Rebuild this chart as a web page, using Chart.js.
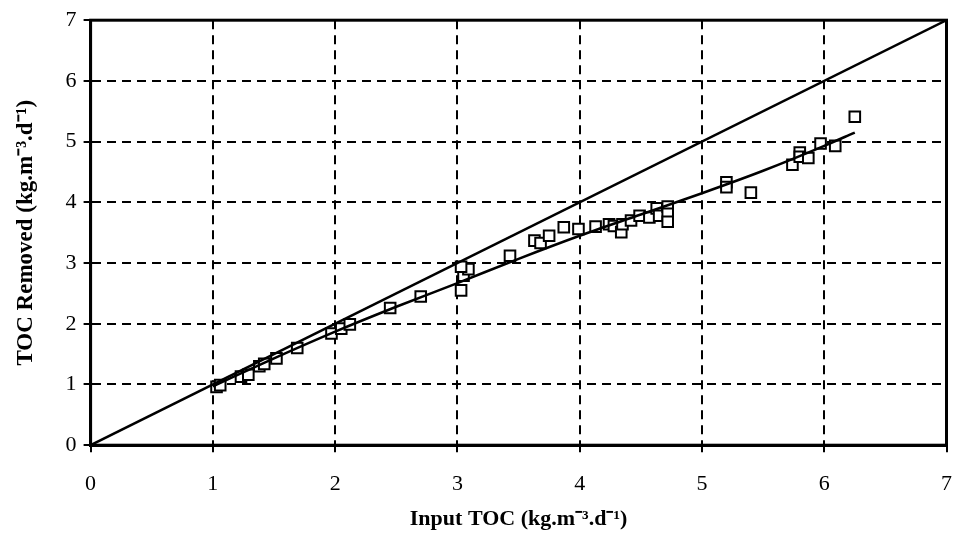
<!DOCTYPE html>
<html>
<head>
<meta charset="utf-8">
<script src="https://cdn.jsdelivr.net/npm/chart.js@4/dist/chart.umd.min.js"></script>
<style>
  html, body { margin: 0; padding: 0; background: #fff; overflow: hidden; }
  canvas { display: block; }
</style>
</head>
<body>
<canvas id="tocChart" width="956" height="537"></canvas>
<script>
// measured points
const inputToc = [
  1.03, 1.06, 1.23, 1.29, 1.38, 1.42, 1.52, 1.69, 1.97, 2.05, 2.12, 2.45,
  2.70, 3.03, 3.05, 3.09, 3.03, 3.43, 3.63, 3.68, 3.75, 3.87, 3.99, 4.13,
  4.24, 4.28, 4.34, 4.35, 4.42, 4.49, 4.57, 4.63, 4.65, 4.72, 4.72, 4.72,
  5.20, 5.20, 5.40, 5.74, 5.80, 5.80, 5.87, 5.97, 6.09, 6.25
];
const tocRemoved = [
  0.96, 0.99, 1.13, 1.16, 1.30, 1.34, 1.43, 1.60, 1.84, 1.92, 1.99, 2.26,
  2.45, 2.55, 2.79, 2.90, 2.94, 3.12, 3.37, 3.33, 3.45, 3.59, 3.56, 3.60,
  3.64, 3.61, 3.51, 3.64, 3.70, 3.78, 3.75, 3.90, 3.78, 3.93, 3.81, 3.68,
  4.33, 4.25, 4.16, 4.62, 4.82, 4.75, 4.73, 4.97, 4.93, 5.41
];

// fitted curve
const fitX = [1.0, 1.5, 2.0, 2.5, 3.0, 3.5, 4.0, 4.5, 5.0, 5.5, 6.0, 6.25];
const fitY = [0.97, 1.43, 1.87, 2.28, 2.67, 3.07, 3.45, 3.80, 4.15, 4.52, 4.93, 5.15];

// 1:1 line
const equalX = [0, 7];
const equalY = [0, 7];

const xTickValues = [0, 1, 2, 3, 4, 5, 6, 7];
const yTickValues = [0, 1, 2, 3, 4, 5, 6, 7];

const toPoints = (xs, ys) => xs.map((x, i) => ({ x: x, y: ys[i] }));

const serif = 'Liberation Serif, Times New Roman, serif';

const frame = {
  id: 'frame',
  afterDraw(chart) {
    const a = chart.chartArea;
    const ctx = chart.ctx;
    ctx.save();
    ctx.strokeStyle = '#000';
    ctx.lineWidth = 3;
    ctx.setLineDash([]);
    ctx.strokeRect(a.left, a.top, a.right - a.left, a.bottom - a.top);
    ctx.restore();
  },
};

const gridOpts = {
  color: '#000',
  lineWidth: 2,
  drawTicks: true,
  tickLength: 7,
  tickBorderDash: [],
  tickWidth: 2,
  tickColor: '#000',
};

const borderOpts = { color: '#000', width: 3, dash: [9, 6] };

new Chart(document.getElementById('tocChart'), {
  type: 'scatter',
  data: {
    datasets: [
      {
        label: '1:1',
        data: toPoints(equalX, equalY),
        showLine: true,
        borderColor: '#000',
        borderWidth: 2.5,
        pointRadius: 0,
      },
      {
        label: 'fit',
        data: toPoints(fitX, fitY),
        showLine: true,
        borderColor: '#000',
        borderWidth: 2.5,
        pointRadius: 0,
        cubicInterpolationMode: 'monotone',
      },
      {
        label: 'TOC',
        data: toPoints(inputToc, tocRemoved),
        pointStyle: 'rect',
        pointRadius: 7.5,
        pointBorderWidth: 2,
        pointBorderColor: '#000',
        pointBackgroundColor: '#fff',
      },
    ],
  },
  options: {
    responsive: false,
    animation: false,
    layout: { padding: { top: 14, left: 12, right: 0, bottom: 7 } },
    plugins: {
      legend: { display: false },
      tooltip: { enabled: false },
    },
    scales: {
      x: {
        type: 'linear',
        min: 0,
        max: 7,
        afterBuildTicks: (s) => { s.ticks = xTickValues.map((v) => ({ value: v })); },
        grid: gridOpts,
        border: borderOpts,
        // tall line box pushes the labels down without adding side padding
        ticks: { color: '#000', padding: 0, font: { family: serif, size: 22, lineHeight: 2.9 } },
        title: {
          display: true,
          text: 'Input TOC (kg.m\u207B\u00B3.d\u207B\u00B9)',
          color: '#000',
          padding: { top: -8, bottom: 0 },
          font: { family: serif, size: 22, weight: 'bold', lineHeight: 1.0 },
        },
      },
      y: {
        type: 'linear',
        min: 0,
        max: 7,
        afterBuildTicks: (s) => { s.ticks = yTickValues.map((v) => ({ value: v })); },
        grid: gridOpts,
        border: borderOpts,
        ticks: { color: '#000', padding: 7, font: { family: serif, size: 22 } },
        title: {
          display: true,
          text: 'TOC Removed (kg.m\u207B\u00B3.d\u207B\u00B9)',
          color: '#000',
          padding: { top: 0, bottom: 19 },
          font: { family: serif, size: 23, weight: 'bold' },
        },
      },
    },
  },
  plugins: [frame],
});
</script>
</body>
</html>
